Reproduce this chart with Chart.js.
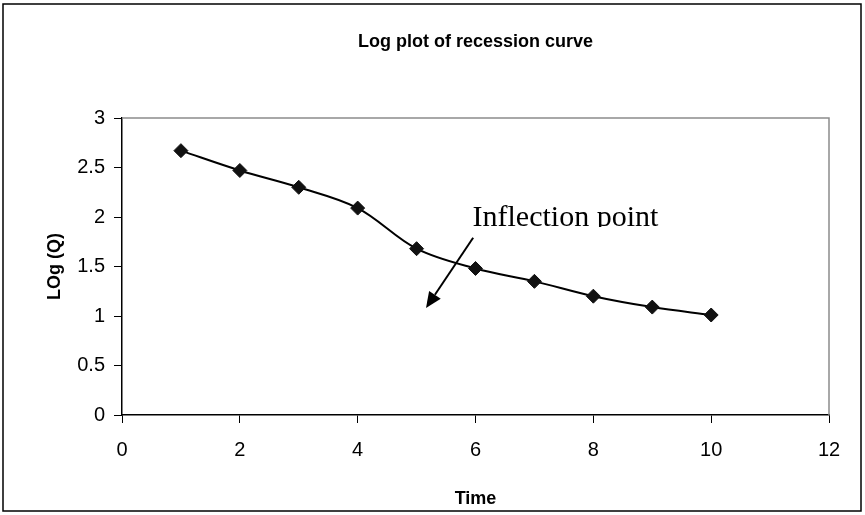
<!DOCTYPE html>
<html>
<head>
<meta charset="utf-8">
<script src="https://cdn.jsdelivr.net/npm/chart.js@4"></script>
<style>
  html, body { margin: 0; padding: 0; background: #fff; }
  #wrap { width: 865px; height: 515px; }
</style>
</head>
<body>
<div id="wrap"><canvas id="chLog" width="865" height="515"></canvas></div>
<script>
// recession curve, log of discharge vs time
const times = [1, 2, 3, 4, 5, 6, 7, 8, 9, 10];
const logQ = [2.67, 2.47, 2.30, 2.09, 1.68, 1.48, 1.35, 1.20, 1.09, 1.01];
const xTicks = [0, 2, 4, 6, 8, 10, 12];
const yTicks = [0, 0.5, 1, 1.5, 2, 2.5, 3];

const chartTitle = 'Log plot of recession curve';

// note + arrow, in data units
const noteText = 'Inflection point';
const notePos = [5.95, 1.91];
const arrowFrom = [5.96, 1.79];
const arrowTo = [5.16, 1.08];

const points = times.map((t, i) => ({ x: t, y: logQ[i] }));

const sansFont = "'Liberation Sans', Arial, sans-serif";

// title over the plot, frame round the canvas, grey box, note with arrow
const extras = {
  id: 'extras',
  afterDraw(chart) {
    const ctx = chart.ctx;
    const a = chart.chartArea;
    const xs = chart.scales.x, ys = chart.scales.y;
    ctx.save();

    ctx.fillStyle = '#000';
    ctx.font = 'bold 18px ' + sansFont;
    ctx.textAlign = 'center';
    ctx.textBaseline = 'middle';
    ctx.fillText(chartTitle, (a.left + a.right) / 2, 42);

    ctx.strokeStyle = '#8c8c8c';
    ctx.lineWidth = 1.5;
    ctx.beginPath();
    ctx.moveTo(a.left, a.top);
    ctx.lineTo(a.right, a.top);
    ctx.lineTo(a.right, a.bottom);
    ctx.stroke();

    ctx.strokeStyle = '#000';
    ctx.lineWidth = 1.5;
    ctx.strokeRect(3, 4, 858, 507);

    // note text, bottom edge cut flat
    const tx = xs.getPixelForValue(notePos[0]);
    const ty = ys.getPixelForValue(notePos[1]);
    ctx.save();
    ctx.beginPath();
    ctx.rect(tx - 5, ty - 40, 260, 41);
    ctx.clip();
    ctx.font = "30px 'Liberation Serif', 'Times New Roman', serif";
    ctx.textAlign = 'left';
    ctx.textBaseline = 'alphabetic';
    ctx.fillText(noteText, tx, ty);
    ctx.restore();

    const x1 = xs.getPixelForValue(arrowFrom[0]), y1 = ys.getPixelForValue(arrowFrom[1]);
    const x2 = xs.getPixelForValue(arrowTo[0]), y2 = ys.getPixelForValue(arrowTo[1]);
    const ang = Math.atan2(y2 - y1, x2 - x1);
    const headLen = 16, headW = 7;
    const bx = x2 - headLen * Math.cos(ang), by = y2 - headLen * Math.sin(ang);
    ctx.lineWidth = 2;
    ctx.beginPath();
    ctx.moveTo(x1, y1);
    ctx.lineTo(bx, by);
    ctx.stroke();
    ctx.beginPath();
    ctx.moveTo(x2, y2);
    ctx.lineTo(bx + headW * Math.sin(ang), by - headW * Math.cos(ang));
    ctx.lineTo(bx - headW * Math.sin(ang), by + headW * Math.cos(ang));
    ctx.closePath();
    ctx.fill();
    ctx.restore();
  }
};

new Chart(document.getElementById('chLog'), {
  type: 'scatter',
  data: {
    datasets: [{
      data: points,
      showLine: true,
      tension: 0.35,
      borderColor: '#000',
      borderWidth: 2,
      pointStyle: 'rectRot',
      pointRadius: 7,
      pointHoverRadius: 7,
      pointBackgroundColor: '#111',
      pointBorderColor: '#111',
      pointBorderWidth: 1
    }]
  },
  options: {
    responsive: false,
    animation: false,
    events: [],
    layout: { padding: { left: 0, right: 36, top: 118, bottom: 0 } },
    plugins: {
      legend: { display: false },
      tooltip: { enabled: false }
    },
    scales: {
      x: {
        type: 'linear',
        min: 0, max: 12,
        afterBuildTicks(s) { s.ticks = xTicks.map(v => ({ value: v })); },
        afterFit(s) { s.height = 100; },
        grid: { display: true, drawOnChartArea: false, drawTicks: true, tickLength: 8, color: '#000', lineWidth: 1 },
        border: { display: true, color: '#000', width: 1.5 },
        ticks: {
          color: '#000', padding: 15, maxRotation: 0,
          font: { family: sansFont, size: 20 },
          callback: v => String(v)
        },
        title: {
          display: true, text: 'Time', color: '#000',
          font: { family: sansFont, size: 18, weight: 'bold' },
          padding: { top: 0, bottom: 5 }
        }
      },
      y: {
        type: 'linear',
        min: 0, max: 3,
        afterBuildTicks(s) { s.ticks = yTicks.map(v => ({ value: v })); },
        afterFit(s) { s.width = 122; },
        grid: { display: true, drawOnChartArea: false, drawTicks: true, tickLength: 8, color: '#000', lineWidth: 1 },
        border: { display: true, color: '#000', width: 1.5 },
        ticks: {
          color: '#000', padding: 9,
          font: { family: sansFont, size: 20 },
          callback: v => String(v)
        },
        title: {
          display: true, text: 'LOg (Q)', color: '#000',
          font: { family: sansFont, size: 18, weight: 'bold' },
          padding: { top: 44, bottom: 0 }
        }
      }
    }
  },
  plugins: [extras]
});
</script>
</body>
</html>
